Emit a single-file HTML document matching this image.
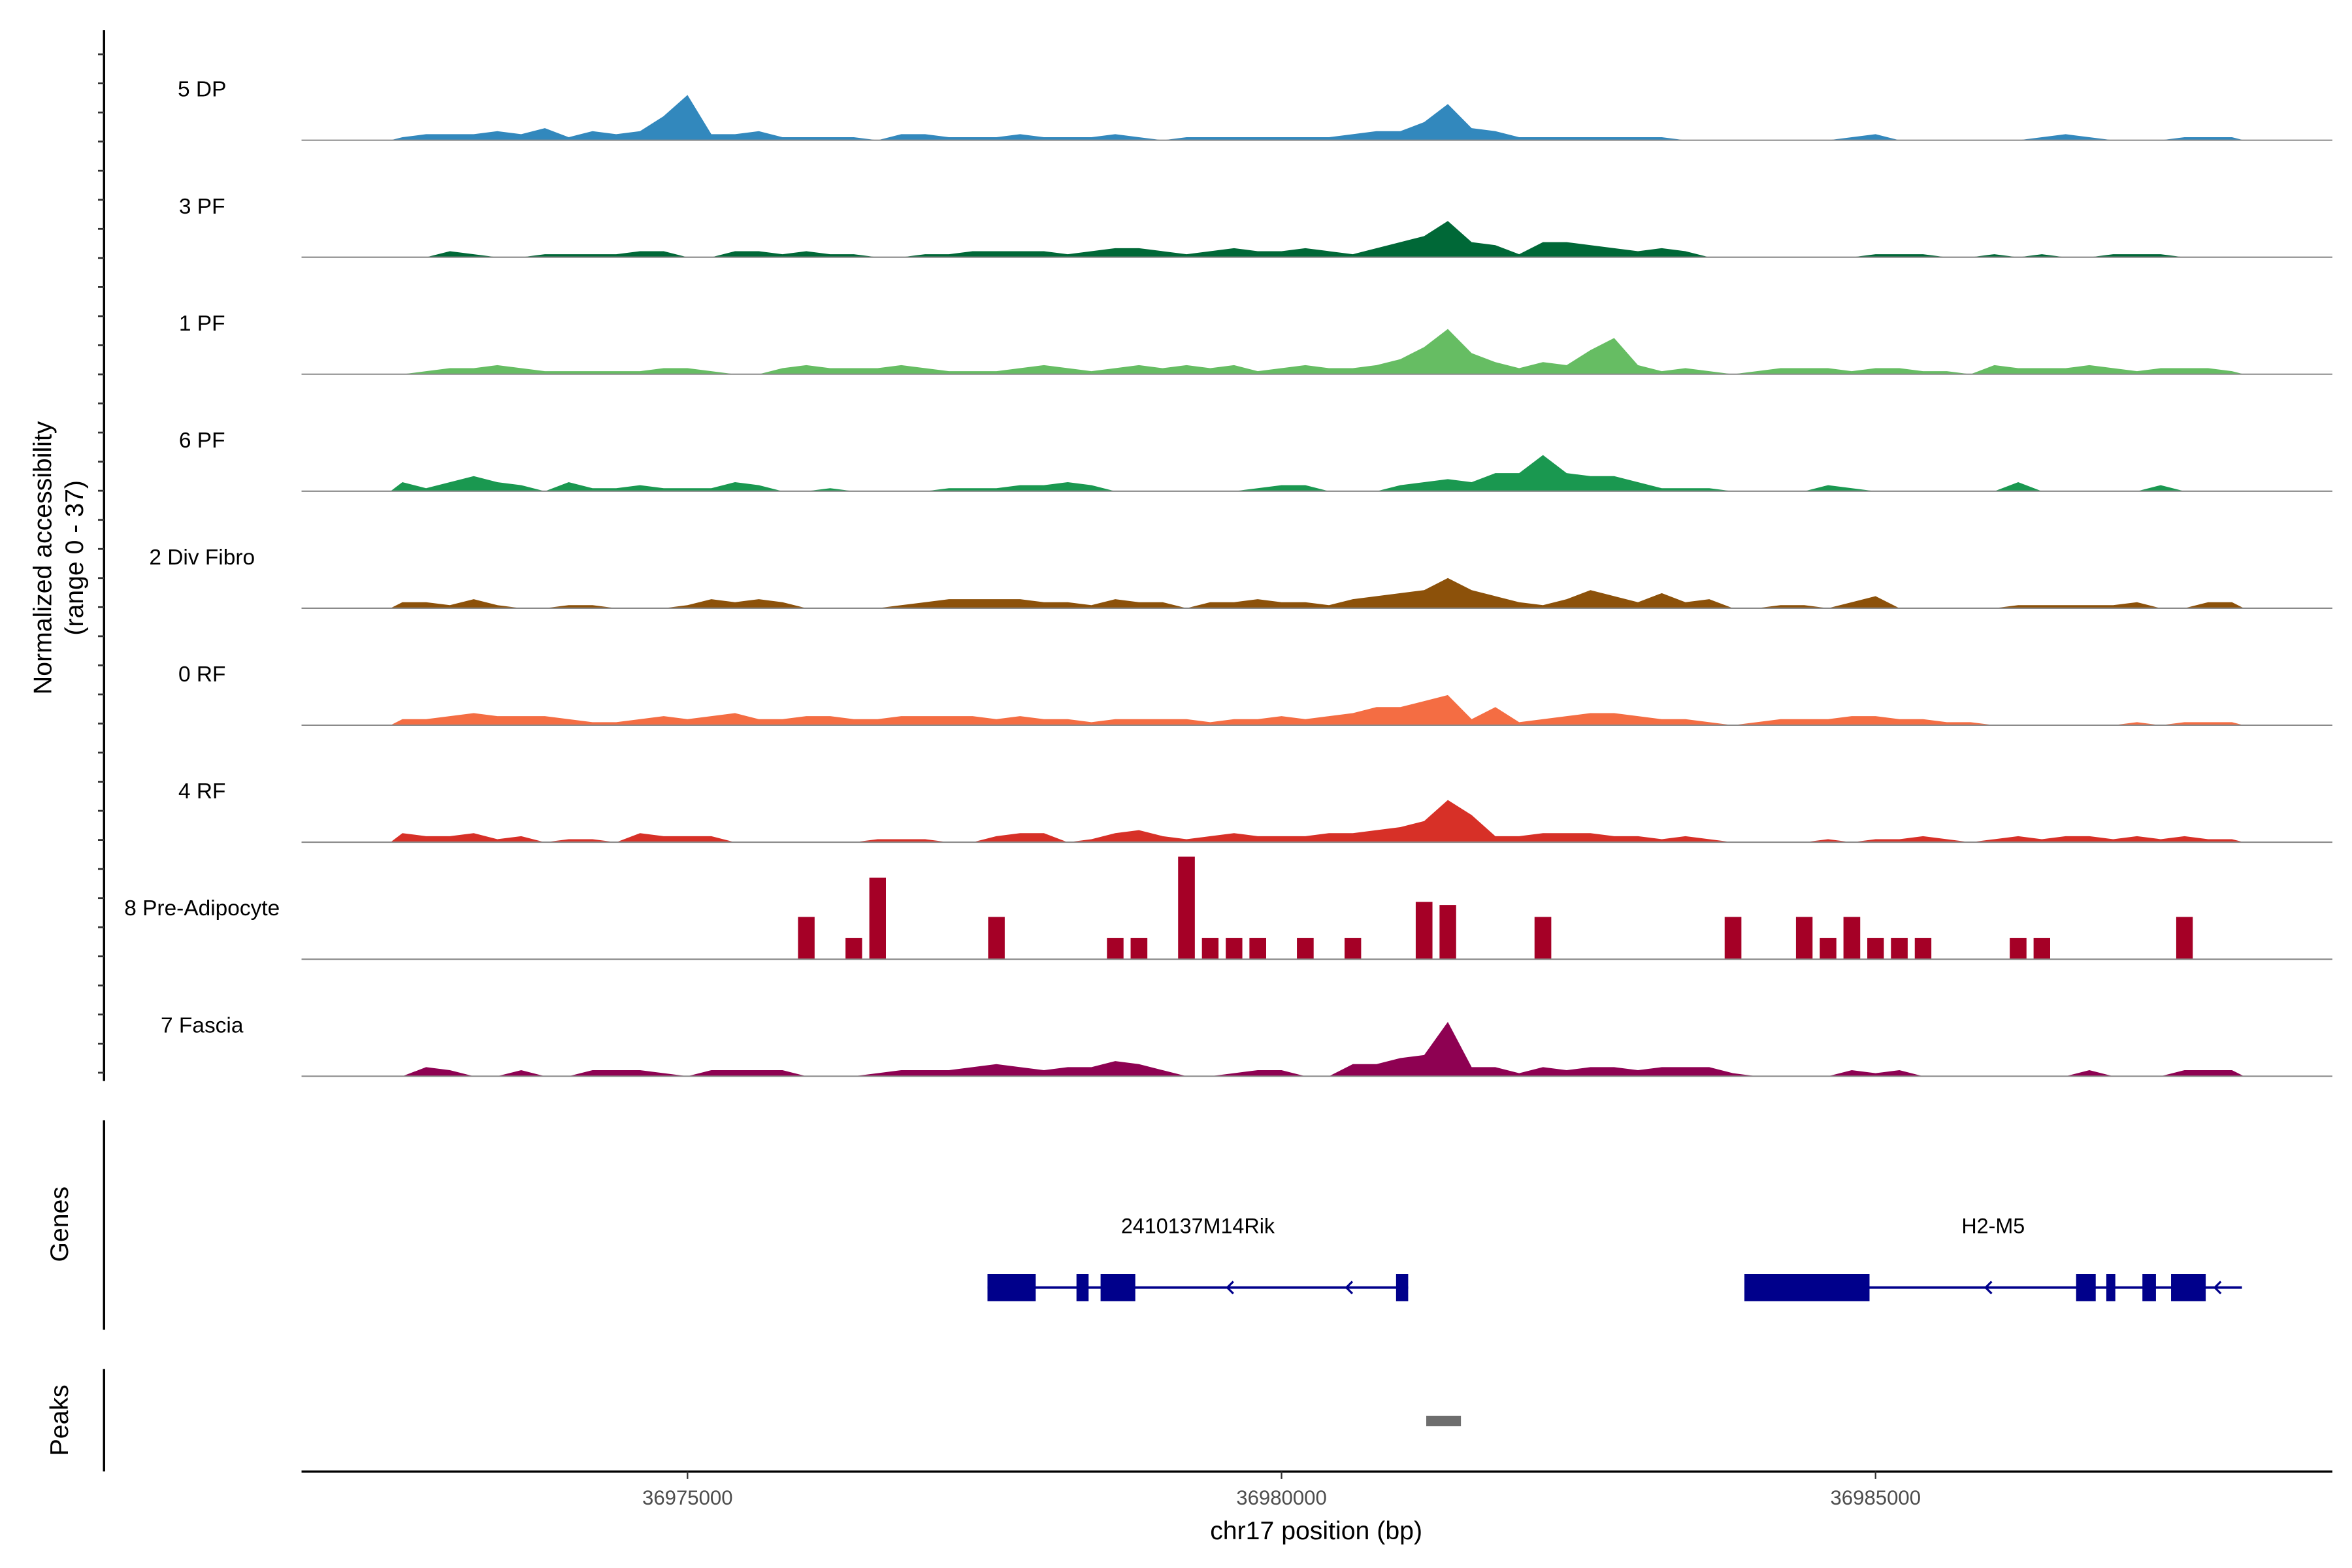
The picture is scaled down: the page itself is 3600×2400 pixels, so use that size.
<!DOCTYPE html>
<html><head><meta charset="utf-8"><style>
html,body{margin:0;padding:0;background:#fff;}
svg{display:block;font-family:"Liberation Sans",sans-serif;}
</style></head><body>
<svg id="chart" width="3600" height="2400" viewBox="0 0 1560 1040" preserveAspectRatio="none" xmlns="http://www.w3.org/2000/svg">
<rect x="0" y="0" width="1560" height="1040" fill="#fff"/>
<g id="tracks"></g>
<line x1="69" y1="20" x2="69" y2="717" stroke="#000" stroke-width="1.5"/>
<g id="yticks"></g>
<text transform="translate(34,370) rotate(-90)" text-anchor="middle" font-size="17">Normalized accessibility</text>
<text transform="translate(55,370) rotate(-90)" text-anchor="middle" font-size="17">(range 0 - 37)</text>
<line x1="69" y1="743" x2="69" y2="882" stroke="#000" stroke-width="1.5"/>
<text transform="translate(45,812) rotate(-90)" text-anchor="middle" font-size="17">Genes</text>
<g id="genes"></g>
<line x1="69" y1="908" x2="69" y2="976" stroke="#000" stroke-width="1.5"/>
<text transform="translate(45,942) rotate(-90)" text-anchor="middle" font-size="17">Peaks</text>
<g id="peaks"></g>
<line x1="200" y1="976" x2="1547" y2="976" stroke="#000" stroke-width="1.5"/>
<g id="xticks"></g>
<text x="873" y="1021" text-anchor="middle" font-size="17">chr17 position (bp)</text>
</svg>
<script>
const binStart = 36972500;
const binSize = 200;
const trackNames = ["5 DP","3 PF","1 PF","6 PF","2 Div Fibro","0 RF","4 RF","8 Pre-Adipocyte","7 Fascia"];
const trackColors = ["#3288BD","#006837","#66BD63","#1A9850","#8C510A","#F46D43","#D73027","#A50026","#8E0152"];
const dp5 = [1,2,2,2,3,2,4,1,3,2,3,8,15,2,2,3,1,1,1,1,0,2,2,1,1,1,2,1,1,1,2,1,0,1,1,1,1,1,1,1,2,3,3,6,12,4,3,1,1,1,1,1,1,1,0,0,0,0,0,0,0,1,2,0,0,0,0,0,0,1,2,1,0,0,0,1,1,1];
const pf3 = [0,0,2,1,0,0,1,1,1,1,2,2,0,0,2,2,1,2,1,1,0,0,1,1,2,2,2,2,1,2,3,3,2,1,2,3,2,2,3,2,1,3,5,7,12,5,4,1,5,5,4,3,2,3,2,0,0,0,0,0,0,0,1,1,1,0,0,1,0,1,0,0,1,1,1,0,0,0];
const pf1 = [0,1,2,2,3,2,1,1,1,1,1,2,2,1,0,0,2,3,2,2,2,3,2,1,1,1,2,3,2,1,2,3,2,3,2,3,1,2,3,2,2,3,5,9,15,7,4,2,4,3,8,12,3,1,2,1,0,1,2,2,2,1,2,2,1,1,0,3,2,2,2,3,2,1,2,2,2,1];
const pf6 = [3,1,3,5,3,2,0,3,1,1,2,1,1,1,3,2,0,0,1,0,0,0,0,1,1,1,2,2,3,2,0,0,0,0,0,0,1,2,2,0,0,0,2,3,4,3,6,6,12,6,5,5,3,1,1,1,0,0,0,0,2,1,0,0,0,0,0,0,3,0,0,0,0,0,2,0,0,0];
const divFibro = [2,2,1,3,1,0,0,1,1,0,0,0,1,3,2,3,2,0,0,0,0,1,2,3,3,3,3,2,2,1,3,2,2,0,2,2,3,2,2,1,3,4,5,6,10,6,4,2,1,3,6,4,2,5,2,3,0,0,1,1,0,2,4,0,0,0,0,0,1,1,1,1,1,2,0,0,2,2];
const rf0 = [2,2,3,4,3,3,3,2,1,1,2,3,2,3,4,2,2,3,3,2,2,3,3,3,3,2,3,2,2,1,2,2,2,2,1,2,2,3,2,3,4,6,6,8,10,2,6,1,2,3,4,4,3,2,2,1,0,1,2,2,2,3,3,2,2,1,1,0,0,0,0,0,0,1,0,1,1,1];
const rf4 = [3,2,2,3,1,2,0,1,1,0,3,2,2,2,0,0,0,0,0,0,1,1,1,0,0,2,3,3,0,1,3,4,2,1,2,3,2,2,2,3,3,4,5,7,14,9,2,2,3,3,3,2,2,1,2,1,0,0,0,0,1,0,1,1,2,1,0,1,2,1,2,2,1,2,1,2,1,1];
const preAdipocyte = [0,0,0,0,0,0,0,0,0,0,0,0,0,0,0,0,0,14,0,7,27,0,0,0,0,14,0,0,0,0,7,7,0,34,7,7,7,0,7,0,7,0,0,19,18,0,0,0,14,0,0,0,0,0,0,0,14,0,0,14,7,14,7,7,7,0,0,0,7,7,0,0,0,0,0,14,0,0];
const fascia = [0,3,2,0,0,2,0,0,2,2,2,1,0,2,2,2,2,0,0,0,1,2,2,2,3,4,3,2,3,3,5,4,2,0,0,1,2,2,0,0,4,4,6,7,18,3,3,1,3,2,3,3,2,3,3,3,1,0,0,0,0,2,1,2,0,0,0,0,0,0,0,2,0,0,0,2,2,2];
const trackValues = [dp5,pf3,pf1,pf6,divFibro,rf0,rf4,preAdipocyte,fascia];
const xTicks = [36975000,36980000,36985000];
const xTickLabels = ["36975000","36980000","36985000"];
const geneNames = ["2410137M14Rik","H2-M5"];
const geneStarts = [36977525,36983896];
const geneEnds = [36981066,36988084];
const exonStarts = [36977525,36978274,36978477,36980964,36983896,36986688,36986942,36987246,36987487];
const exonEnds = [36977931,36978376,36978769,36981066,36984949,36986853,36987018,36987360,36987779];
const strandArrows = [36979556,36980558,36985939,36987868];
const peakStarts = [36981218];
const peakEnds = [36981510];

const NS="http://www.w3.org/2000/svg";
function xScale(bp){return 850+(bp-36980000)*394/5000;}
const trackStep=77.6, unitPx=2.0;
function baseY(t){return 93+t*trackStep;}
function yScale(t,v){return baseY(t)-v*unitPx;}
function mk(tag,attrs,parent){const e=document.createElementNS(NS,tag);for(const k in attrs)e.setAttribute(k,attrs[k]);parent.appendChild(e);return e;}

const tracks=document.getElementById('tracks');
trackValues.forEach((vals,t)=>{
  const g=mk('g',{},tracks);
  
  
  const stepMode = (t===7);
  let d='';
  if(stepMode){
    vals.forEach((v,i)=>{
      if(v<=0) return;
      const c=binStart+binSize*(i+0.5);
      const x0=xScale(c-binSize*0.35), x1=xScale(c+binSize*0.35);
      d+='M'+x0.toFixed(1)+','+baseY(t)+' L'+x0.toFixed(1)+','+yScale(t,v).toFixed(1)+' L'+x1.toFixed(1)+','+yScale(t,v).toFixed(1)+' L'+x1.toFixed(1)+','+baseY(t)+' Z ';
    });
  } else {
    d='M'+xScale(binStart).toFixed(1)+','+baseY(t);
    vals.forEach((v,i)=>{
      const x=xScale(binStart+binSize*(i+0.5));
      d+=' L'+x.toFixed(1)+','+yScale(t,v).toFixed(1);
    });
    d+=' L'+xScale(binStart+binSize*vals.length).toFixed(1)+','+baseY(t)+' Z';
  }
  const p=mk('path',{d:d,fill:trackColors[t],stroke:'none'},g);
  
  
  const bl=mk('line',{x1:200,x2:1547,y1:baseY(t),y2:baseY(t),stroke:'#8a8a8a','stroke-width':0.9},g);
  
  
  const lab=mk('text',{x:134,y:baseY(t)-29,'text-anchor':'middle','font-size':14.5,fill:'#000'},g);
  lab.textContent=trackNames[t];
  
  
});

const yt=document.getElementById('yticks');
for(let y=36;y<=712;y+=19.3){
  const l=mk('line',{x1:65,x2:69,y1:y,y2:y,stroke:'#333','stroke-width':1.2},yt);
  
  
}

const genes=document.getElementById('genes');
geneNames.forEach((n,i)=>{
  const ln=mk('line',{x1:xScale(geneStarts[i]),x2:xScale(geneEnds[i]),y1:854,y2:854,stroke:'#00008B','stroke-width':1.6},genes);
  
  
  const tx=mk('text',{x:(xScale(geneStarts[i])+xScale(geneEnds[i]))/2,y:818,'text-anchor':'middle','font-size':14,fill:'#000'},genes);
  tx.textContent=n;
  
  
});
exonStarts.forEach((s,i)=>{
  const r=mk('rect',{x:xScale(s),y:845,width:xScale(exonEnds[i])-xScale(s),height:18,fill:'#00008B'},genes);
  
  
});
strandArrows.forEach(a=>{
  const x=xScale(a);
  const p=mk('path',{d:'M'+(x+3)+',850 L'+(x-1)+',854 L'+(x+3)+',858',fill:'none',stroke:'#00008B','stroke-width':1.4},genes);
  
  
});

const peaks=document.getElementById('peaks');
peakStarts.forEach((s,i)=>{
  const r=mk('rect',{x:xScale(s),y:939,width:xScale(peakEnds[i])-xScale(s),height:7,fill:'#6e6e6e'},peaks);
  
  
});

const xt=document.getElementById('xticks');
xTicks.forEach((v,i)=>{
  const x=xScale(v);
  const l=mk('line',{x1:x,x2:x,y1:976,y2:981,stroke:'#333','stroke-width':1},xt);
  
  
  const t=mk('text',{x:x,y:998,'text-anchor':'middle','font-size':13.5,fill:'#4d4d4d'},xt);
  t.textContent=xTickLabels[i];
  
  
});
</script>
</body></html>
